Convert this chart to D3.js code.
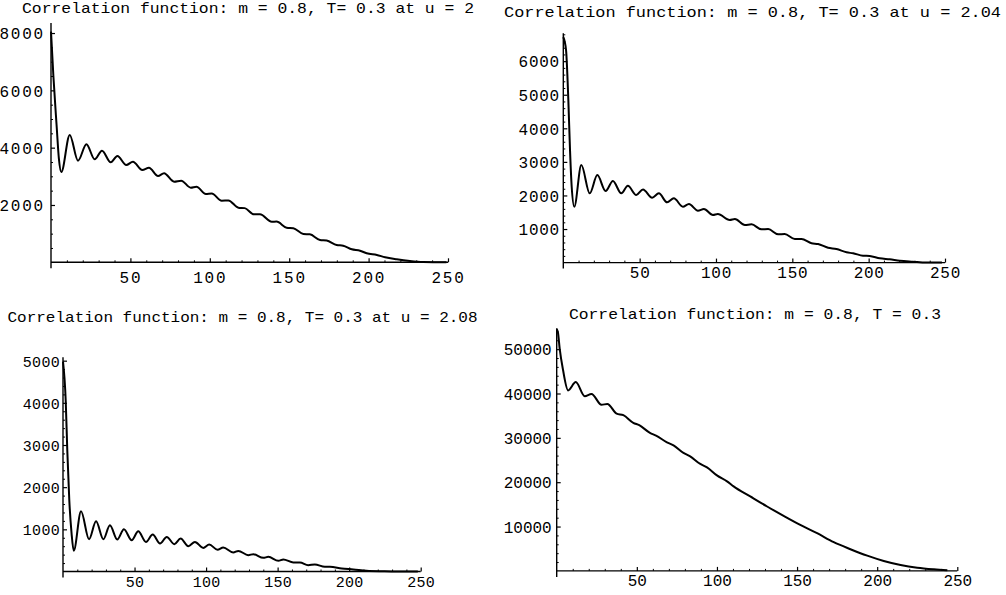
<!DOCTYPE html>
<html>
<head>
<meta charset="utf-8">
<script src="https://cdn.jsdelivr.net/npm/d3@7"></script>
<style>
  body { margin: 0; background: #fff; }
  svg { display: block; }
</style>
</head>
<body>
<div id="chart"></div>
<script>
// ---- data ----
const titles = [
  "Correlation function: m = 0.8, T= 0.3 at u = 2",
  "Correlation function: m = 0.8, T= 0.3 at u = 2.04",
  "Correlation function: m = 0.8, T= 0.3 at u = 2.08",
  "Correlation function: m = 0.8, T = 0.3"
];

// u = 2
const lagA = [0, 1.5, 3.5, 5, 6.5, 11.8, 17, 22.3, 27.5, 32.1, 37.6, 41.8, 47.4, 51.6, 57.5, 61.7, 67.4, 71.2, 77.5, 82, 88, 91.6, 97.5, 101.2, 107.5, 111.7, 118, 122, 127.8, 131.6, 139, 142, 148.4, 152.6, 158.9, 163, 169.4, 173.6, 179.9, 184, 189.4, 194.6, 198.8, 205.2, 210.4, 217.7, 226, 234.5, 249];
const corrA = [8050, 6500, 4800, 3600, 3150, 4443, 3546, 4118, 3595, 3895, 3490, 3710, 3396, 3511, 3222, 3302, 3012, 3106, 2813, 2848, 2604, 2639, 2384, 2400, 2150, 2160, 1906, 1890, 1675, 1680, 1417, 1420, 1208, 1190, 988, 977, 778, 760, 604, 580, 454, 405, 314, 255, 175, 105, 45, 10, 0];

// u = 2.04
const lagB = [0, 1.8, 3.3, 4.4, 5.5, 7.2, 11.8, 17.3, 22.3, 27.7, 32.5, 38, 42.3, 47.8, 52.2, 58.2, 62.6, 68, 72.4, 78.3, 82.3, 88.2, 92.1, 98, 101.2, 109, 112.4, 118.9, 123.3, 129.8, 134.2, 140.7, 145, 151.6, 156, 162.6, 166.9, 173.4, 178.9, 185.5, 189.8, 196.3, 200.7, 207.3, 213.8, 220.4, 229, 237.8, 248];
const corrB = [6720, 6330, 4840, 3350, 2260, 1664, 2905, 2062, 2607, 2131, 2429, 2062, 2289, 2012, 2181, 1932, 2062, 1795, 1914, 1664, 1744, 1545, 1595, 1417, 1446, 1268, 1297, 1119, 1140, 991, 1000, 842, 850, 702, 705, 574, 553, 443, 405, 306, 277, 205, 196, 128, 98, 57, 27, 0, 0];

// u = 2.08
const lagC = [0, 1.9, 3, 4.4, 6, 7.5, 12.6, 18.2, 23.1, 28.2, 32.8, 37.9, 42.6, 48, 52.6, 58, 62.7, 67.8, 72.5, 77.8, 82.2, 87.6, 92.2, 98, 102.2, 108, 112, 119, 122.5, 129.5, 133, 140, 143.5, 150.5, 154, 161, 165.6, 171.4, 176, 183, 186.6, 194.8, 203, 212.2, 223.8, 233, 248];
const corrC = [4980, 4050, 2870, 1690, 900, 490, 1428, 766, 1191, 766, 1097, 758, 1002, 742, 955, 702, 877, 664, 821, 648, 782, 600, 702, 560, 640, 515, 570, 451, 489, 388, 411, 324, 348, 253, 286, 215, 215, 151, 168, 111, 111, 73, 50, 17, 5, 0, 0];

// full correlation function
const lagD = [0, 0.8, 1.9, 3.9, 7.1, 11.9, 17.5, 21.7, 28, 31.6, 37.4, 41.6, 47.8, 51.5, 58.2, 62, 68.8, 72.9, 79.1, 83.3, 89.6, 93.8, 100, 106.3, 110.4, 120.8, 131.3, 141.6, 152, 162.5, 172.9, 183.3, 193.8, 204.1, 214.6, 225, 235.4, 243.8];
const corrD = [54500, 53700, 50000, 45400, 40700, 42570, 39400, 39900, 37450, 37640, 35450, 35110, 33390, 32850, 31130, 30510, 29000, 28320, 26600, 25830, 24110, 23340, 21530, 20180, 19050, 16780, 14520, 12420, 10380, 8500, 6470, 4890, 3440, 2240, 1335, 724, 360, 150];

const xTickValues = [50, 100, 150, 200, 250];
const xMinorStep = 10;
const yTicksA = [2000, 4000, 6000, 8000];
const yTicksB = [1000, 2000, 3000, 4000, 5000, 6000];
const yTicksC = [1000, 2000, 3000, 4000, 5000];
const yTicksD = [10000, 20000, 30000, 40000, 50000];
const yMinorSteps = [500, 200, 200, 2000];
const yTops = [8350, 6830, 5080, 54700];
const xMax = 250;

// ---- where each panel sits on the page ----
const frames = [
  {left: 51,    right: 448,   bottom: 262.3, top: 23,    titleX: 22,  titleY: 13.3,  titleLen: 452, labelY: 283.5, yGap: 6,   fs: 16, ls: 1.8},
  {left: 563.3, right: 945,   bottom: 262.6, top: 33.3,  titleX: 504, titleY: 16.7,  titleLen: 497, labelY: 278.3, yGap: 3.5, fs: 16, ls: 0.7},
  {left: 63,    right: 420.7, bottom: 571.5, top: 357.3, titleX: 7.5, titleY: 321.7, titleLen: 470, labelY: 586.7, yGap: 3,   fs: 15, ls: 0.3},
  {left: 556.7, right: 957.3, bottom: 570.9, top: 328.3, titleX: 569, titleY: 319.3, titleLen: 372, labelY: 585.7, yGap: 5,   fs: 16, ls: 0}
];

const series = [[lagA, corrA], [lagB, corrB], [lagC, corrC], [lagD, corrD]];
const yTicks = [yTicksA, yTicksB, yTicksC, yTicksD];

const width = 1006, height = 595;
const font = "'Liberation Mono', 'DejaVu Sans Mono', monospace";

const svg = d3.select("#chart")
  .append("svg")
  .attr("width", width)
  .attr("height", height)
  .style("background", "#fff");

frames.forEach((f, i) => {
  let x = d3.scaleLinear().domain([0, xMax]).range([f.left, f.right]);
  let y = d3.scaleLinear().domain([0, yTops[i]]).range([f.bottom, f.top]);
  let g = svg.append("g");

  // title
  g.append("text")
    .attr("x", f.titleX)
    .attr("y", f.titleY)
    .attr("font-family", font)
    .attr("font-size", 15)
    .attr("textLength", f.titleLen)
    .attr("lengthAdjust", "spacingAndGlyphs")
    .text(titles[i]);

  // minor ticks
  let xMinor = d3.range(xMinorStep, xMax + 1, xMinorStep).filter(v => v % 50 !== 0);
  g.append("g")
    .attr("transform", `translate(0,${f.bottom})`)
    .call(d3.axisBottom(x).tickValues(xMinor).tickFormat("").tickSizeInner(-2).tickSizeOuter(0))
    .call(a => a.select(".domain").remove())
    .call(a => a.selectAll("line").attr("stroke-width", 1));

  let yMinor = d3.range(yMinorSteps[i], yTops[i], yMinorSteps[i]).filter(v => !yTicks[i].includes(v));
  g.append("g")
    .attr("transform", `translate(${f.left},0)`)
    .call(d3.axisLeft(y).tickValues(yMinor).tickFormat("").tickSizeInner(-2).tickSizeOuter(0))
    .call(a => a.select(".domain").remove())
    .call(a => a.selectAll("line").attr("stroke-width", 1));

  // major ticks + labels (font set after the axis call, which resets it)
  g.append("g")
    .attr("transform", `translate(0,${f.bottom})`)
    .call(d3.axisBottom(x).tickValues(xTickValues).tickFormat(d3.format("d")).tickSizeInner(-4).tickSizeOuter(0))
    .attr("font-family", font)
    .attr("font-size", f.fs)
    .call(a => a.select(".domain").remove())
    .call(a => a.selectAll("line").attr("stroke-width", 1.2))
    .call(a => a.selectAll("text")
      .attr("y", f.labelY - f.bottom)
      .attr("dy", null)
      .attr("letter-spacing", f.ls)
      .attr("fill", "#000"));

  g.append("g")
    .attr("transform", `translate(${f.left},0)`)
    .call(d3.axisLeft(y).tickValues(yTicks[i]).tickFormat(d3.format("d")).tickSizeInner(-4).tickSizeOuter(0).tickPadding(f.yGap))
    .attr("font-family", font)
    .attr("font-size", f.fs)
    .call(a => a.select(".domain").remove())
    .call(a => a.selectAll("line").attr("stroke-width", 1.2))
    .call(a => a.selectAll("text")
      .attr("dy", "0.36em")
      .attr("letter-spacing", f.ls)
      .attr("fill", "#000"));

  // axis lines
  g.append("line")
    .attr("x1", x(0)).attr("x2", x(xMax))
    .attr("y1", y(0)).attr("y2", y(0))
    .attr("stroke", "#000").attr("stroke-width", 1.4);
  g.append("line")
    .attr("x1", x(0)).attr("x2", x(0))
    .attr("y1", y(yTops[i])).attr("y2", y(0) + 6)
    .attr("stroke", "#000").attr("stroke-width", 1.4);

  // curve
  let pts = series[i][0].map((d, k) => [d, series[i][1][k]]);
  let line = d3.line()
    .x(d => x(d[0]))
    .y(d => y(d[1]))
    .curve(d3.curveMonotoneX);
  g.append("path")
    .datum(pts)
    .attr("d", line)
    .attr("fill", "none")
    .attr("stroke", "#000")
    .attr("stroke-width", 2)
    .attr("stroke-linejoin", "round");
});
</script>
</body>
</html>
